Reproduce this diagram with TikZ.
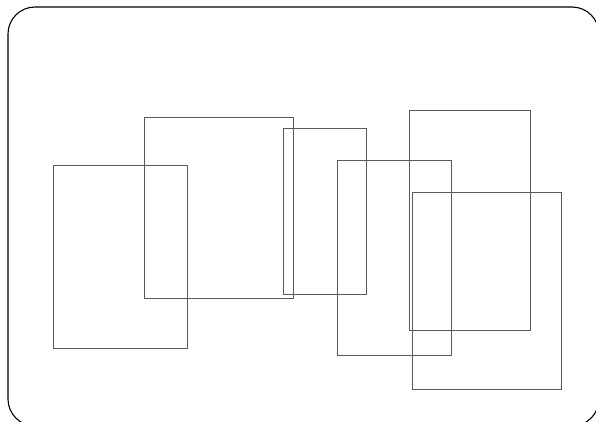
\documentclass[tikz,border=0pt]{standalone}
\begin{document}
\begin{tikzpicture}[x=1pt,y=-1pt,
  card/.style={draw=black!65,line width=0.9pt,inner sep=0pt,outer sep=0pt,rectangle}]
\useasboundingbox (0,0) rectangle (596,422);
\begin{scope}
\clip (0,0) rectangle (596,422);
\draw[line width=1.1pt,rounded corners=27pt] (8,7) rectangle (599,426);
\end{scope}
\newcommand{\cardbox}[5]{%
  \node[card,minimum width={#4-#2},minimum height={#5-#3}] (#1) at ({(#2+#4)/2},{(#3+#5)/2}) {};}
\cardbox{r1}{53}{165}{187}{348}
\cardbox{r2}{144}{117}{293}{298}
\cardbox{r3}{283}{128}{366}{294}
\cardbox{r4}{337}{160}{451}{355}
\cardbox{r5}{409}{110}{530}{330}
\cardbox{r6}{412}{192}{561}{389}
\end{tikzpicture}
\end{document}
